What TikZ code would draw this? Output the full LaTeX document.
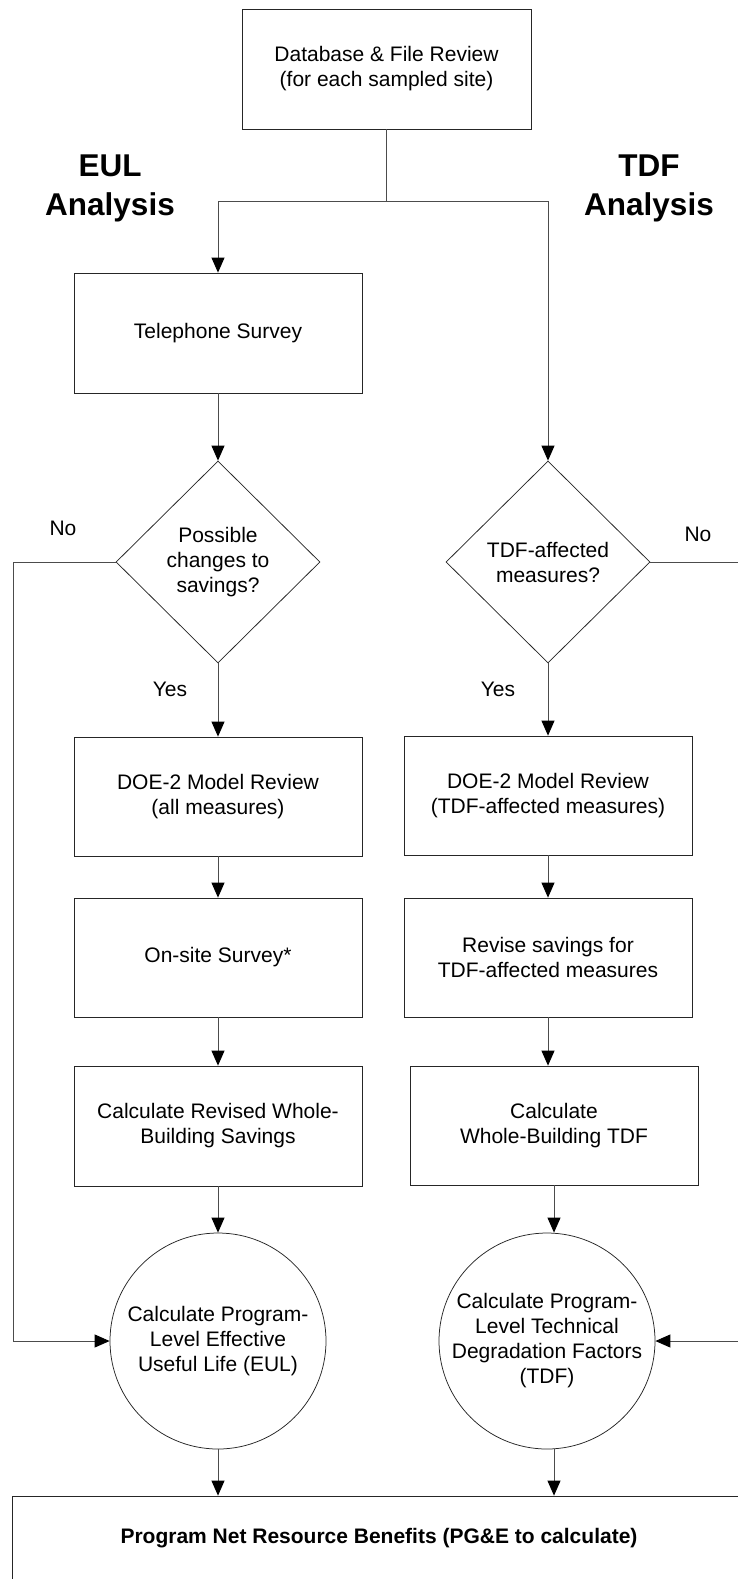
\documentclass[tikz,border=0pt]{standalone}
\usepackage{fontspec}
\setmainfont{Liberation Sans}
\usetikzlibrary{shapes.geometric,arrows.meta,calc}
\begin{document}
\begin{tikzpicture}[x=1pt,y=-1pt,
  every node/.style={font=\fontsize{21}{25}\selectfont, align=center},
  box/.style={draw=black!85, line width=0.75pt, rectangle, minimum width=288pt, minimum height=120pt, inner sep=0pt},
  dec/.style={draw=black!85, line width=0.75pt, diamond, minimum width=204pt, minimum height=202pt, inner sep=0pt},
  circ/.style={draw=black!85, line width=0.75pt, circle, minimum size=216pt, inner sep=0pt},
  conn/.style={draw=black!70, line width=0.9pt},
  arr/.style={conn, -{Triangle[length=15pt,width=13pt,color=black]}},
  lbl/.style={inner sep=0pt},
  head/.style={font=\fontsize{31.5}{39}\selectfont\bfseries, inner sep=0pt}
]
\useasboundingbox (0,0) rectangle (737,1579);
\fill[white] (0,0) rectangle (737,1579);

\node[box, minimum width=289pt] (top) at (386.5,69) {Database \& File Review\\(for each sampled site)};
\node[head] (eul) at (110,188) {EUL\\Analysis};
\node[head] (tdf) at (649,188) {TDF\\Analysis};
\node[box] (tel) at (218,333) {Telephone Survey};
\node[dec] (d1) at (218,562) {Possible\\changes to\\savings?};
\node[dec] (d2) at (548,562) {TDF-affected\\measures?};
\node[lbl] (no1) at (63,528) {No};
\node[lbl] (no2) at (698,534) {No};
\node[lbl] (yes1) at (170,689) {Yes};
\node[lbl] (yes2) at (498,689) {Yes};
\node[box, minimum height=119pt] (doe1) at (218,796.5) {DOE-2 Model Review\\(all measures)};
\node[box, minimum height=119pt] (doe2) at (548,795.5) {DOE-2 Model Review\\(TDF-affected measures)};
\node[box, minimum height=119pt] (os) at (218,957.5) {On-site Survey*};
\node[box, minimum height=119pt] (rev) at (548,957.5) {Revise savings for\\TDF-affected measures};
\node[box] (calc1) at (218,1126) {Calculate Revised Whole-\\Building Savings};
\node[box, minimum height=119pt] (calc2) at (554,1125.5) {Calculate\\Whole-Building TDF};
\node[circ] (c1) at (218,1341) {Calculate Program-\\Level Effective\\Useful Life (EUL)};
\node[circ] (c2) at (547,1341) {Calculate Program-\\Level Technical\\Degradation Factors\\(TDF)};
\node[rectangle, draw=black!85, line width=0.75pt, minimum width=734pt, minimum height=85pt, inner sep=0pt, font=\fontsize{21}{25}\selectfont\bfseries] (ben) at (379,1538.5) {Program Net Resource Benefits (PG\&E to calculate)};

\coordinate (jn) at (386.5,201);
\coordinate (nl) at (13,562);
\coordinate (nr) at (760,562);

\draw[conn] (top.south) -- (jn);
\draw[arr] (jn) -| (tel.north);
\draw[arr] (jn) -| (d2.north);
\draw[arr] (tel.south) -- (d1.north);
\draw[arr] (d1.south) -- (doe1.north);
\draw[arr] (d2.south) -- (doe2.north);
\draw[arr] (doe1.south) -- (os.north);
\draw[arr] (doe2.south) -- (rev.north);
\draw[arr] (os.south) -- (calc1.north);
\draw[arr] (rev.south) -- (rev.south |- calc2.north);
\draw[arr] (calc1.south) -- (c1.north);
\draw[arr] (calc2.south) -- (calc2.south |- c2.north);
\draw[arr] (c1.south) -- (c1.south |- ben.north);
\draw[arr] (calc2.south |- c2.south) -- (calc2.south |- ben.north);
\draw[conn] (d1.west) -- (nl);
\draw[arr] (nl) |- (c1.west);
\draw[conn] (d2.east) -- (nr);
\draw[arr] (nr) |- (c2.east);
\end{tikzpicture}
\end{document}
